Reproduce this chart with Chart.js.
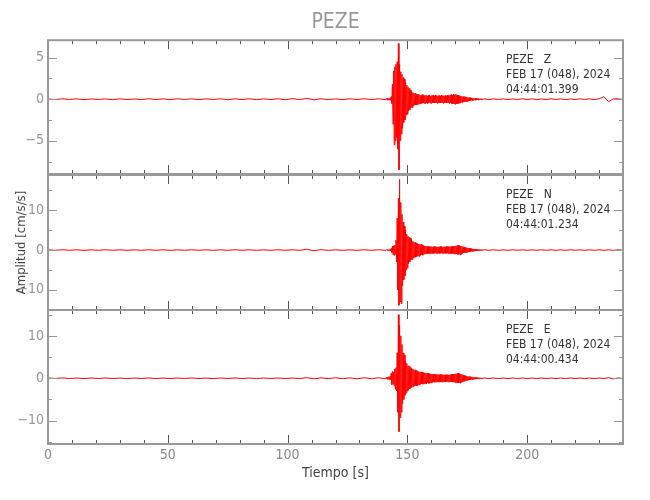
<!DOCTYPE html>
<html>
<head>
<meta charset="utf-8">
<script src="https://cdn.jsdelivr.net/npm/chart.js@4.4.1/dist/chart.umd.min.js"></script>
<style>
  body { margin: 0; background: #fff; }
  #wrap { position: relative; width: 650px; height: 500px; }
  canvas { position: absolute; left: 0; }
</style>
</head>
<body>
<div id="wrap">
  <canvas id="cZ" width="650" height="180" style="top:0px"></canvas>
  <canvas id="cN" width="650" height="148" style="top:168px"></canvas>
  <canvas id="cE" width="650" height="196" style="top:304px"></canvas>
</div>
<script>
// sampling grid of the three trace pieces (seconds)
const preStart = 0, preStep = 3;
const burstStart = 141.25, burstStep = 0.25;
const postStart = 182, postStep = 2;

// Z component [cm/s/s]
const zPre = [0.03,-0.04,0.05,-0.03,0.04,-0.05,0.03,-0.03,0.04,-0.06,0.05,-0.04,0.03,-0.05,0.06,-0.04,
  0.04,-0.05,0.05,-0.03,0.04,-0.05,0.04,-0.03,0.05,-0.06,0.04,-0.04,0.05,-0.05,0.04,-0.04,
  0.05,-0.06,0.07,-0.05,0.1,-0.08,0.06,-0.05,0.04,-0.05,0.05,-0.04,0.06,-0.05,0.05,-0.06];
const zBurst = [
  0.1,-0.08,0.12,-0.1,0.08,-0.12,0.15,-0.12,
  0.3,-0.5,1.8,-3.0,3.4,-5.5,3.9,-5.0,
  4.2,-4.6,4.5,-6.0,6.7,-8.5,4.2,-5.0,
  3.3,-4.2,3.0,-3.5,2.6,-2.8,2.4,-2.5,
  2.0,-1.9,1.7,-1.8,1.5,-1.4,1.3,-1.3,
  1.1,-1.0,0.9,-1.0,0.8,-0.8,0.75,-0.7,
  0.7,-0.65,0.6,-0.7,0.55,-0.6,0.6,-0.55,
  0.5,-0.55,0.45,-0.5,0.55,-0.45,0.5,-0.5,
  0.45,-0.5,0.5,-0.45,0.4,-0.5,0.45,-0.4,
  0.5,-0.45,0.4,-0.5,0.45,-0.4,0.5,-0.45,
  0.4,-0.45,0.5,-0.4,0.45,-0.5,0.4,-0.45,
  0.45,-0.4,0.4,-0.45,0.5,-0.4,0.45,-0.5,
  0.4,-0.45,0.45,-0.4,0.4,-0.45,0.5,-0.4,
  0.45,-0.5,0.5,-0.45,0.55,-0.5,0.5,-0.55,
  0.6,-0.55,0.55,-0.6,0.6,-0.55,0.5,-0.55,
  0.45,-0.5,0.4,-0.45,0.4,-0.35,0.35,-0.4,
  0.3,-0.35,0.3,-0.3,0.28,-0.3,0.25,-0.28,
  0.22,-0.2,0.18,-0.2,0.18,-0.16,0.15,-0.16,
  0.12,-0.14,0.12,-0.1,0.1,-0.12,0.1,-0.08,
  0.08,-0.09,0.08,-0.07,0.06,-0.07,0.06,-0.05];
const zPost = [0.04,-0.05,0.04,-0.03,0.04,-0.05,0.03,-0.04,0.05,-0.03,0.04,-0.05,0.03,-0.04,0.05,
  -0.03,0.04,-0.05,0.03,-0.04,0.05,-0.03,0.04,-0.05,0.05,0.3,-0.3,0.05,0.04,-0.03];

// N component
const nPre = [0.06,-0.07,0.08,-0.06,0.07,-0.08,0.06,-0.07,0.08,-0.06,0.07,-0.08,0.06,-0.07,0.08,-0.06,
  0.07,-0.08,0.06,-0.07,0.08,-0.06,0.07,-0.08,0.06,-0.07,0.08,-0.06,0.07,-0.08,0.06,-0.07,
  0.08,-0.06,0.07,-0.08,0.2,-0.18,0.1,-0.08,0.07,-0.08,0.06,-0.07,0.08,-0.07,0.08,-0.08];
const nBurst = [
  0.1,-0.12,0.12,-0.1,0.12,-0.14,0.15,-0.14,
  0.4,-0.6,1.0,-1.2,1.1,-1.3,1.2,-1.0,
  2.5,-3.0,8.0,-10.0,13.0,-13.9,17.8,-13.0,
  12.0,-13.5,9.0,-9.0,7.0,-7.5,6.0,-6.5,
  5.0,-5.0,4.0,-4.5,3.5,-3.5,3.2,-3.0,
  3.0,-2.5,2.6,-2.4,2.2,-2.0,2.0,-1.8,
  1.9,-1.8,1.7,-1.6,1.6,-1.5,1.5,-1.6,
  1.4,-1.3,1.5,-1.2,1.2,-1.3,1.1,-1.0,
  1.0,-0.9,0.95,-1.0,0.9,-0.85,0.9,-0.9,
  0.85,-0.9,0.9,-0.8,0.85,-0.9,0.8,-0.85,
  0.9,-0.8,0.85,-0.85,0.8,-0.9,0.85,-0.8,
  0.8,-0.85,0.9,-0.8,0.85,-0.8,0.8,-0.85,
  0.85,-0.8,0.8,-0.85,0.9,-0.8,0.85,-0.9,
  0.9,-0.85,0.85,-0.9,0.9,-0.85,0.95,-0.9,
  0.95,-1.0,1.0,-0.95,1.05,-1.0,1.1,-1.05,
  1.2,-1.1,1.15,-1.2,1.0,-1.05,0.9,-0.85,
  0.8,-0.75,0.7,-0.7,0.65,-0.6,0.6,-0.55,
  0.5,-0.5,0.45,-0.45,0.4,-0.38,0.35,-0.35,
  0.3,-0.3,0.26,-0.28,0.24,-0.22,0.2,-0.2,
  0.18,-0.16,0.15,-0.14,0.12,-0.12,0.1,-0.09];
const nPost = [0.08,-0.07,0.07,-0.08,0.06,-0.07,0.08,-0.06,0.07,-0.08,0.06,-0.07,0.08,-0.06,0.07,
  -0.08,0.06,-0.07,0.08,-0.06,0.07,-0.08,0.06,-0.07,0.08,-0.06,0.07,-0.08,0.06,-0.05];

// E component
const ePre = [0.07,-0.06,0.08,-0.07,0.06,-0.08,0.07,-0.06,0.08,-0.07,0.06,-0.08,0.07,-0.06,0.08,-0.07,
  0.06,-0.08,0.07,-0.06,0.08,-0.07,0.06,-0.08,0.07,-0.06,0.08,-0.07,0.06,-0.08,0.07,-0.06,
  0.08,-0.07,0.06,-0.08,0.15,-0.13,0.1,-0.08,0.12,-0.1,0.1,-0.12,0.14,-0.12,0.13,-0.14];
const eBurst = [
  0.2,-0.22,0.25,-0.2,0.35,-0.3,0.45,-0.4,
  1.2,-1.5,1.6,-1.4,1.5,-1.8,2.2,-2.6,
  2.5,-3.0,6.0,-8.0,15.0,-12.6,12.5,-9.3,
  10.0,-8.0,8.0,-6.0,6.0,-5.0,5.5,-4.0,
  4.0,-3.5,3.5,-3.0,3.0,-2.8,2.8,-2.5,
  2.5,-2.2,2.3,-2.0,2.2,-2.0,2.0,-1.8,
  2.0,-1.7,1.8,-1.8,1.7,-1.6,1.6,-1.5,
  1.5,-1.4,1.5,-1.3,1.4,-1.4,1.3,-1.3,
  1.3,-1.2,1.2,-1.3,1.2,-1.1,1.2,-1.2,
  1.1,-1.1,1.0,-1.1,1.0,-1.0,1.0,-0.9,
  0.9,-0.95,0.95,-0.9,0.9,-0.85,0.9,-0.9,
  0.85,-0.9,0.9,-0.85,0.85,-0.9,0.85,-0.8,
  0.85,-0.8,0.8,-0.85,0.85,-0.8,0.8,-0.85,
  0.8,-0.85,0.85,-0.8,0.9,-0.85,0.9,-0.9,
  0.95,-0.9,1.0,-1.0,1.05,-1.0,1.1,-1.05,
  1.15,-1.1,1.1,-1.15,1.0,-0.95,0.9,-0.85,
  0.75,-0.7,0.65,-0.7,0.6,-0.55,0.5,-0.5,
  0.45,-0.45,0.4,-0.4,0.35,-0.32,0.3,-0.3,
  0.26,-0.25,0.24,-0.22,0.2,-0.2,0.18,-0.17,
  0.15,-0.14,0.13,-0.12,0.12,-0.11,0.1,-0.09];
const ePost = [0.08,-0.07,0.08,-0.08,0.07,-0.08,0.08,-0.07,0.08,-0.08,0.07,-0.08,0.08,-0.07,0.08,
  -0.08,0.07,-0.08,0.08,-0.07,0.08,-0.08,0.07,-0.08,0.08,-0.07,0.15,-0.15,0.08,-0.06];

const labelZ = ["PEZE   Z", "FEB 17 (048), 2024", "04:44:01.399"];
const labelN = ["PEZE   N", "FEB 17 (048), 2024", "04:44:01.234"];
const labelE = ["PEZE   E", "FEB 17 (048), 2024", "04:44:00.434"];

const FONT = "'Liberation Sans Narrow', 'DejaVu Sans Condensed', sans-serif";

function toPoints(pre, burst, post) {
  const pts = [];
  pre.forEach((v, i) => pts.push({ x: preStart + i * preStep, y: v }));
  burst.forEach((v, i) => pts.push({ x: burstStart + i * burstStep, y: v }));
  post.forEach((v, i) => pts.push({ x: postStart + i * postStep, y: v }));
  return pts;
}

// no extra room for edge labels, the panels touch each other
function noPad(s) {
  s.paddingTop = 0; s.paddingBottom = 0;
  s.paddingLeft = 0; s.paddingRight = 0;
}

// frame, inward ticks and station text
const framePlugin = {
  id: "frame",
  afterDatasetsDraw(chart, args, opts) {
    const { ctx, chartArea: a, scales } = chart;
    const xs = scales.x, ys = scales.y;
    ctx.save();
    ctx.lineWidth = 1;
    ctx.strokeStyle = "#555";
    for (let v = 0; v <= 240; v += 10) {
      const px = Math.round(xs.getPixelForValue(v)) + 0.5;
      const len = v % 50 === 0 ? 9 : 4;
      ctx.beginPath();
      ctx.moveTo(px, a.top); ctx.lineTo(px, a.top + len);
      ctx.moveTo(px, a.bottom); ctx.lineTo(px, a.bottom - len);
      ctx.stroke();
    }
    ctx.strokeStyle = "#999";
    const start = Math.ceil(ys.min / opts.minor) * opts.minor;
    for (let v = start; v <= ys.max; v += opts.minor) {
      const py = Math.round(ys.getPixelForValue(v)) + 0.5;
      const len = v % opts.major === 0 ? 9 : 4;
      ctx.beginPath();
      ctx.moveTo(a.left, py); ctx.lineTo(a.left + len, py);
      ctx.moveTo(a.right, py); ctx.lineTo(a.right - len, py);
      ctx.stroke();
    }
    ctx.lineWidth = 2;
    ctx.strokeStyle = "#999";
    ctx.strokeRect(a.left, a.top, a.right - a.left, a.bottom - a.top);

    ctx.fillStyle = "#333";
    ctx.font = "12px " + FONT;
    ctx.textBaseline = "middle";
    opts.lines.forEach((t, i) => ctx.fillText(t, a.left + 458, a.top + 20 + i * 15));
    ctx.restore();
  }
};

function makeChart(id, data, cfg) {
  const yTicks = {
    stepSize: cfg.major,
    includeBounds: false,
    padding: 4,
    color: "#999",
    font: { family: FONT, size: 14 },
    callback: v => String(v).replace("-", "\u2212")
  };
  return new Chart(document.getElementById(id), {
    type: "line",
    data: {
      datasets: [{
        data,
        borderColor: "#ff0000",
        borderWidth: 1,
        pointRadius: 0,
        tension: 0,
        fill: false
      }]
    },
    options: {
      responsive: false,
      animation: false,
      events: [],
      layout: { padding: cfg.padding },
      plugins: {
        legend: { display: false },
        tooltip: { enabled: false },
        title: cfg.title || { display: false },
        frame: { minor: cfg.minor, major: cfg.major, lines: cfg.lines }
      },
      scales: {
        x: cfg.x,
        y: {
          min: cfg.min,
          max: cfg.max,
          afterFit: s => { noPad(s); s.width = 48; },
          grid: { display: false, drawTicks: false },
          border: { display: false },
          ticks: yTicks,
          title: cfg.yTitle || { display: false }
        }
      }
    },
    plugins: [framePlugin]
  });
}

const xHidden = { type: "linear", min: 0, max: 240, display: false };

makeChart("cZ", toPoints(zPre, zBurst, zPost), {
  min: -9, max: 7.1, minor: 2.5, major: 5, lines: labelZ,
  padding: { left: 0, right: 27, top: 0, bottom: 6 },
  x: xHidden,
  title: {
    display: true, text: "PEZE", fullSize: false, color: "#999",
    font: { family: FONT, size: 21, weight: "normal" },
    padding: { top: 10, bottom: 5 }
  }
});

makeChart("cN", toPoints(nPre, nBurst, nPost), {
  min: -15.1, max: 18.9, minor: 5, major: 10, lines: labelN,
  padding: { left: 0, right: 27, top: 7, bottom: 6 },
  x: xHidden,
  yTitle: {
    display: true, text: "Amplitud [cm/s/s]", color: "#444",
    font: { family: FONT, size: 13 },
    padding: { top: 14, bottom: 0 }
  }
});

makeChart("cE", toPoints(ePre, eBurst, ePost), {
  min: -15.5, max: 16.1, minor: 5, major: 10, lines: labelE,
  padding: { left: 0, right: 27, top: 6, bottom: 0 },
  x: {
    type: "linear", min: 0, max: 240,
    afterFit: s => { noPad(s); s.height = 56; },
    grid: { display: false, drawTicks: false },
    border: { display: false },
    ticks: {
      stepSize: 50, padding: 3, color: "#888", maxRotation: 0, includeBounds: false,
      font: { family: FONT, size: 14 }
    },
    title: {
      display: true, text: "Tiempo [s]", color: "#444",
      font: { family: FONT, size: 14 },
      padding: { top: 0, bottom: 18 }
    }
  }
});
</script>
</body>
</html>
